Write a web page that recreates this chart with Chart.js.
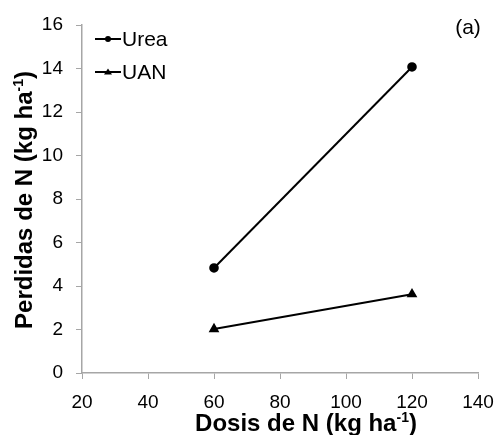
<!DOCTYPE html>
<html>
<head>
<meta charset="utf-8">
<script src="https://cdn.jsdelivr.net/npm/chart.js@4/dist/chart.umd.min.js"></script>
<style>
  html, body { margin: 0; padding: 0; background: #fff; }
  #wrap { width: 497px; height: 435px; position: relative; }
</style>
</head>
<body>
<div id="wrap"><canvas id="chart" width="497" height="435"></canvas></div>
<script>
// data
const doses = [60, 120];
const urea = [4.83, 14.07];
const uan = [2.02, 3.62];
const seriesNames = ['Urea', 'UAN'];
const xTicks = [20, 40, 60, 80, 100, 120, 140];
const yTicks = [0, 2, 4, 6, 8, 10, 12, 14, 16];
const xTitle = ['Dosis de N (kg ha', '-1', ')'];
const yTitle = ['Perdidas de N (kg ha', '-1', ')'];

const FONT = '"Liberation Sans", Arial, sans-serif';
const AXIS = '#a6a6a6';

// title with a small raised "-1", centred on (cx, baseline)
function drawSupTitle(ctx, parts, cx, baseline){
  const big = 'bold 24px ' + FONT, small = 'bold 14px ' + FONT;
  ctx.font = big; const w0 = ctx.measureText(parts[0]).width;
  ctx.font = small; const w1 = ctx.measureText(parts[1]).width;
  ctx.font = big; const w2 = ctx.measureText(parts[2]).width;
  let x = cx - (w0 + w1 + w2) / 2;
  ctx.textAlign = 'left';
  ctx.textBaseline = 'alphabetic';
  ctx.font = big; ctx.fillText(parts[0], x, baseline); x += w0;
  ctx.font = small; ctx.fillText(parts[1], x, baseline - 9); x += w1;
  ctx.font = big; ctx.fillText(parts[2], x, baseline);
}

// legend (line with marker), panel tag and axis titles
const decorations = {
  id: 'decorations',
  afterDraw(chart){
    const ctx = chart.ctx;
    const rows = [39, 72];
    chart.data.datasets.forEach((ds, i) => {
      const y = rows[i];
      ctx.save();
      ctx.strokeStyle = '#000';
      ctx.lineWidth = 2;
      ctx.beginPath(); ctx.moveTo(95, y); ctx.lineTo(121, y); ctx.stroke();
      ctx.fillStyle = '#000';
      if (ds.pointStyle === 'triangle'){
        ctx.beginPath(); ctx.moveTo(108, y-3.5); ctx.lineTo(112, y+2.5); ctx.lineTo(104, y+2.5); ctx.closePath(); ctx.fill();
      } else {
        ctx.beginPath(); ctx.arc(108, y, 3, 0, Math.PI*2); ctx.fill();
      }
      ctx.font = '21px ' + FONT;
      ctx.textBaseline = 'middle';
      ctx.fillText(ds.label, 122, y + 1);
      ctx.restore();
    });
    ctx.save();
    ctx.fillStyle = '#000';
    ctx.font = '21px ' + FONT;
    ctx.textAlign = 'center';
    ctx.textBaseline = 'middle';
    ctx.fillText('(a)', 468, 28);
    drawSupTitle(ctx, xTitle, 306, 431);
    ctx.translate(32, 200);
    ctx.rotate(-Math.PI / 2);
    drawSupTitle(ctx, yTitle, 0, 0);
    ctx.restore();
  }
};

new Chart(document.getElementById('chart'), {
  type: 'line',
  data: {
    datasets: [
      { label: seriesNames[0], data: doses.map((x, i) => ({ x, y: urea[i] })),
        borderColor: '#000', backgroundColor: '#000', borderWidth: 2,
        pointStyle: 'circle', pointRadius: 3.8, pointHoverRadius: 3.8 },
      { label: seriesNames[1], data: doses.map((x, i) => ({ x, y: uan[i] })),
        borderColor: '#000', backgroundColor: '#000', borderWidth: 2,
        pointStyle: 'triangle', pointRadius: 4.2, pointHoverRadius: 4.2 }
    ]
  },
  options: {
    responsive: false,
    animation: false,
    layout: { padding: { top: 25, right: 19, left: 0, bottom: 0 } },
    plugins: { legend: { display: false }, tooltip: { enabled: false } },
    scales: {
      x: {
        type: 'linear', min: 20, max: 140,
        afterBuildTicks: s => { s.ticks = xTicks.map(v => ({ value: v })); },
        afterFit: s => { s.height = 62; s.paddingLeft = 0; s.paddingRight = 0; },
        grid: { drawOnChartArea: false, drawTicks: true, tickLength: 6, color: AXIS },
        border: { color: AXIS, width: 1.5 },
        ticks: { color: '#000', font: { family: FONT, size: 19 }, padding: 12, maxRotation: 0 }
      },
      y: {
        min: 0, max: 16,
        afterBuildTicks: s => { s.ticks = yTicks.map(v => ({ value: v })); },
        afterFit: s => { s.width = 82; s.paddingTop = 0; s.paddingBottom = 0; },
        grid: { drawOnChartArea: false, drawTicks: true, tickLength: 6, color: AXIS },
        border: { color: AXIS, width: 1.5 },
        ticks: { color: '#000', font: { family: FONT, size: 19 }, padding: 13 }
      }
    }
  },
  plugins: [decorations]
});
</script>
</body>
</html>
